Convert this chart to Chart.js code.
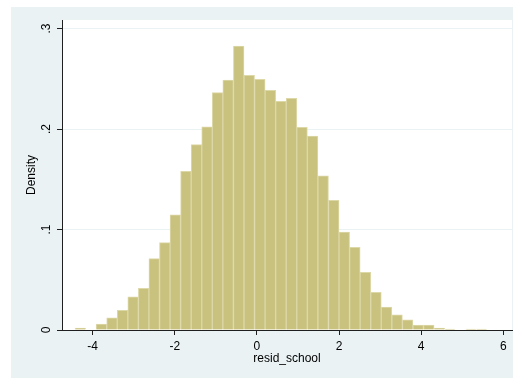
<!DOCTYPE html>
<html>
<head>
<meta charset="utf-8">
<script src="https://cdn.jsdelivr.net/npm/chart.js@4/dist/chart.umd.min.js"></script>
<style>
  html, body { margin: 0; padding: 0; background: #ffffff; }
  canvas { display: block; }
</style>
</head>
<body>
<canvas id="hist" width="518" height="378"></canvas>
<script>
// Histogram of resid_school: 39 equal-width bins starting at binStart
const binStart = -4.43;
const binWidth = 0.2572;
const density = [
  0.002, 0.000, 0.006, 0.012, 0.0196, 0.033, 0.0415, 0.071, 0.087, 0.1147,
  0.158, 0.1844, 0.2023, 0.2362, 0.2488, 0.2826, 0.2535, 0.2494, 0.2385, 0.2275,
  0.2305, 0.2017, 0.193, 0.1535, 0.129, 0.0975, 0.0823, 0.0574, 0.0375, 0.0229,
  0.0152, 0.010, 0.005, 0.005, 0.002, 0.001, 0.000, 0.001, 0.001
];
const xTickValues = [-4, -2, 0, 2, 4, 6];
const yTickValues = [0, 0.1, 0.2, 0.3];
const yTickLabels = ['0', '.1', '.2', '.3'];

const bars = density.map((d, i) => ({ x: binStart + binWidth * (i + 0.5), y: d }));

const FONT = "'Liberation Sans', Arial, sans-serif";
Chart.defaults.font.family = FONT;
Chart.defaults.font.size = 12;
Chart.defaults.color = '#000000';

const AXIS = '#1f1f1f';
const GRID = '#eaf2f3';

// Light outer panel with a white plot region
const backdrop = {
  id: 'backdrop',
  beforeDraw(chart) {
    const { ctx, chartArea: a } = chart;
    ctx.save();
    ctx.fillStyle = '#ffffff';
    ctx.fillRect(0, 0, chart.width, chart.height);
    ctx.fillStyle = GRID;
    ctx.fillRect(11, 7, 502, 371);
    ctx.fillStyle = '#ffffff';
    ctx.fillRect(a.left, a.top, a.right - a.left, a.bottom - a.top);
    ctx.restore();
  }
};

new Chart(document.getElementById('hist'), {
  type: 'bar',
  data: {
    datasets: [{
      data: bars,
      backgroundColor: '#c9c27f',
      borderColor: '#ddd8a8',
      borderWidth: 1,
      barPercentage: 1,
      categoryPercentage: 1
    }]
  },
  options: {
    responsive: false,
    animation: false,
    devicePixelRatio: 1,
    layout: { padding: { top: 20, right: 6, left: 0, bottom: 0 } },
    plugins: {
      legend: { display: false },
      tooltip: { enabled: false }
    },
    scales: {
      x: {
        type: 'linear',
        min: -4.747,
        max: 6.213,
        offset: false,
        afterBuildTicks: s => { s.ticks = xTickValues.map(v => ({ value: v })); },
        afterFit: s => { s.height = 48; },
        grid: {
          offset: false,
          drawOnChartArea: false,
          drawTicks: true,
          tickLength: 5,
          tickColor: AXIS
        },
        border: { display: true, color: AXIS, width: 1 },
        ticks: {
          autoSkip: false,
          minRotation: 0,
          maxRotation: 0,
          padding: 4,
          color: '#000000',
          font: { family: FONT, size: 12 },
          callback: v => String(v)
        },
        title: {
          display: true,
          text: 'resid_school',
          color: '#000000',
          font: { family: FONT, size: 12 },
          padding: { top: 0, bottom: 12 }
        }
      },
      y: {
        min: 0,
        max: 0.3085,
        afterBuildTicks: s => { s.ticks = yTickValues.map(v => ({ value: v })); },
        afterFit: s => { s.width = 62; },
        grid: {
          color: c => (c.tick && c.tick.value === 0) ? 'rgba(0,0,0,0)' : GRID,
          lineWidth: 1,
          drawTicks: true,
          tickLength: 5,
          tickColor: AXIS
        },
        border: { display: true, color: AXIS, width: 1 },
        ticks: {
          minRotation: 90,
          maxRotation: 90,
          crossAlign: 'center',
          padding: 5,
          color: '#000000',
          font: { family: FONT, size: 12 },
          callback: v => {
            const i = yTickValues.findIndex(t => Math.abs(t - v) < 1e-9);
            return i >= 0 ? yTickLabels[i] : '';
          }
        },
        title: {
          display: true,
          text: 'Density',
          color: '#000000',
          font: { family: FONT, size: 12 },
          padding: { top: 24, bottom: 0 }
        }
      }
    }
  },
  plugins: [backdrop]
});
</script>
</body>
</html>
